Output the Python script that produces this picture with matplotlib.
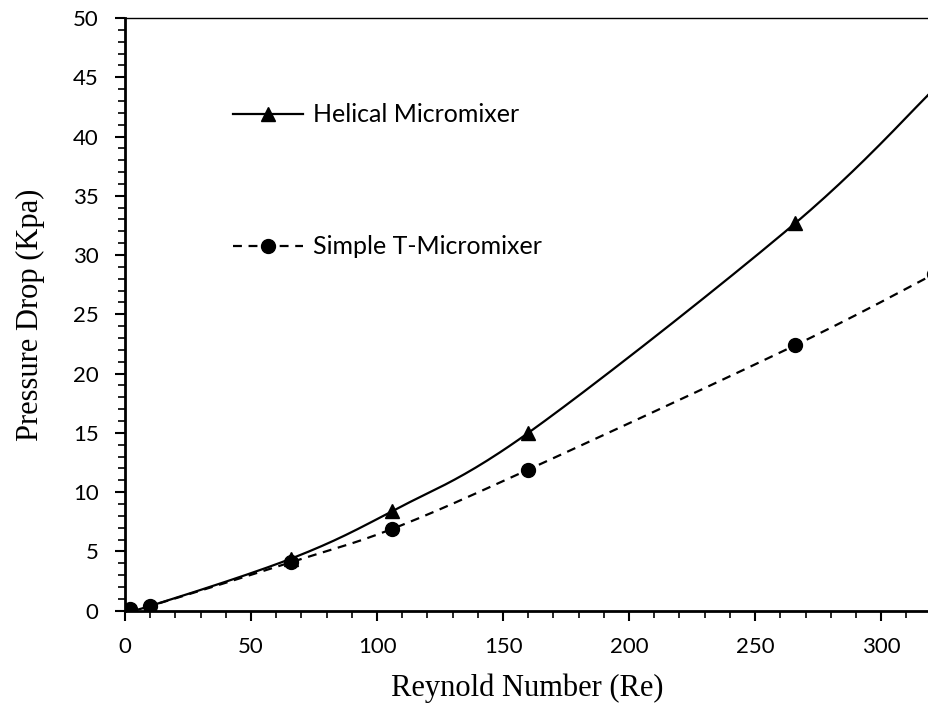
import numpy as np
import matplotlib
matplotlib.use("Agg")
import matplotlib.pyplot as plt
from matplotlib.ticker import MultipleLocator

# Reynolds numbers and measured pressure drops (kPa)
re_values = [2, 10, 66, 106, 160, 266, 321]
helical_dp = [0.1, 0.4, 4.4, 8.4, 15.0, 32.7, 44.0]
simple_t_dp = [0.1, 0.4, 4.1, 6.9, 11.9, 22.4, 28.4]


def smooth_curve(x, y, steps=40):
    # Catmull-Rom style smoothing through the points (like a spreadsheet smooth line)
    p = np.column_stack([x, y]).astype(float)
    p = np.vstack([p[0], p, p[-1]])
    out = []
    t = np.linspace(0, 1, steps)
    for i in range(1, len(p) - 2):
        p0, p1, p2, p3 = p[i - 1], p[i], p[i + 1], p[i + 2]
        c1 = p1 + (p2 - p0) / 6
        c2 = p2 - (p3 - p1) / 6
        seg = ((1 - t) ** 3)[:, None] * p1 + (3 * (1 - t) ** 2 * t)[:, None] * c1 \
            + (3 * (1 - t) * t ** 2)[:, None] * c2 + (t ** 3)[:, None] * p2
        out.append(seg)
    out = np.vstack(out)
    return out[:, 0], out[:, 1]


plt.rcParams['font.family'] = ['Lato', 'DejaVu Sans']

fig = plt.figure(figsize=(9.29, 7.13), dpi=100)
ax = fig.add_axes([0.1346, 0.1435, 0.8654, 0.8313])

hx, hy = smooth_curve(re_values, helical_dp)
sx, sy = smooth_curve(re_values, simple_t_dp)

ax.plot(hx, hy, color='black', lw=1.6, solid_capstyle='butt')
ax.plot(re_values, helical_dp, linestyle='none', marker='^', ms=10, color='black')
ax.plot(sx, sy, color='black', lw=1.6, dashes=(4, 3))
ax.plot(re_values, simple_t_dp, linestyle='none', marker='o', ms=10, color='black')

# legend handles combine line style and marker
ax.plot([], [], color='black', lw=1.6, marker='^', ms=10, label='Helical Micromixer')
ax.plot([], [], color='black', lw=1.6, dashes=(4, 3), marker='o', ms=10,
        label='Simple T-Micromixer')
ax.legend(loc='upper left', bbox_to_anchor=(0.106, 0.894), frameon=False,
          fontsize=18, handlelength=2.8, handletextpad=0.4, labelspacing=4.36)

ax.set_xlim(0, 319)
ax.set_ylim(0, 50)
ax.xaxis.set_major_locator(MultipleLocator(50))
ax.xaxis.set_minor_locator(MultipleLocator(10))
ax.yaxis.set_major_locator(MultipleLocator(5))
ax.yaxis.set_minor_locator(MultipleLocator(1))
ax.tick_params(which='major', direction='out', length=7, width=1.5, labelsize=16, pad=12)
ax.tick_params(which='minor', direction='out', length=5, width=1.2)

ax.spines['right'].set_visible(False)
ax.spines['left'].set_linewidth(2)
ax.spines['bottom'].set_linewidth(2)
ax.spines['top'].set_linewidth(1)

ax.set_xlabel('Reynold Number (Re)', fontfamily='Liberation Serif', fontsize=22, labelpad=12)
ax.set_ylabel('Pressure Drop (Kpa)', fontfamily='Liberation Serif', fontsize=22, labelpad=20)

fig.savefig('out.png', dpi=100)
